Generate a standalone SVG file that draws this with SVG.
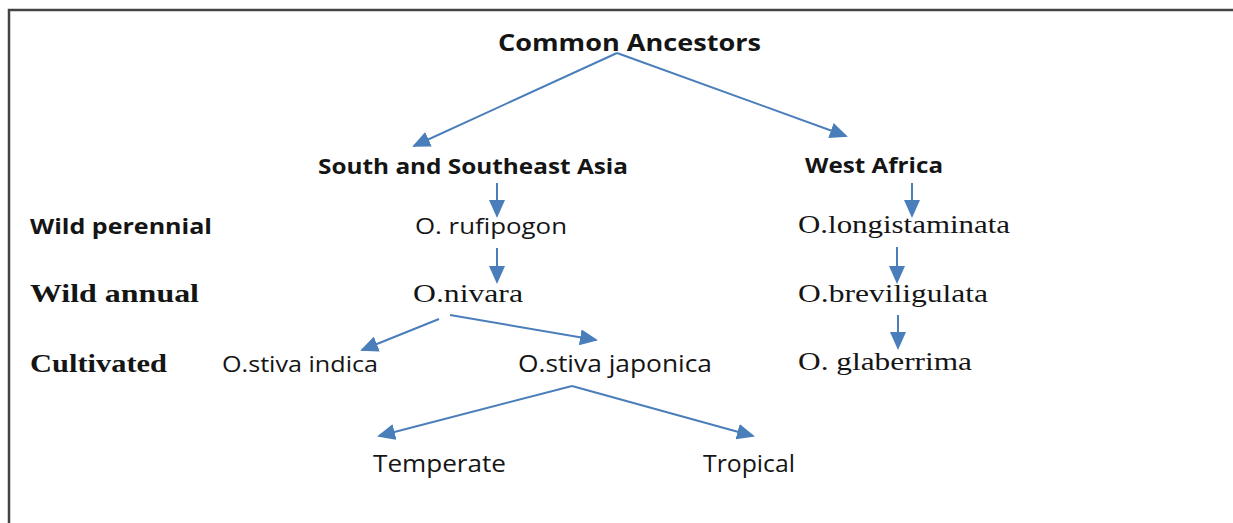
<svg xmlns="http://www.w3.org/2000/svg" width="1233" height="523" viewBox="0 0 1233 523">
<style>
.s{font-family:"Open Sans","Liberation Sans",sans-serif;fill:#151515}
.b{font-weight:bold}
.t{font-family:"Liberation Serif","Times New Roman",serif;fill:#151515}
.c{stroke:#4a7ebb;stroke-width:2;fill:none;marker-end:url(#ah)}
</style>
<defs>
<marker id="ah" markerWidth="9" markerHeight="8" refX="8" refY="4" orient="auto" markerUnits="strokeWidth">
<path d="M0,0 L9,4 L0,8 z" fill="#4a7ebb"/>
</marker>
</defs>
<rect width="1233" height="523" fill="#fff"/>
<g id="frame" stroke="#444" stroke-width="2.5" fill="none">
<path d="M9,523 V10 H1233"/>
</g>
<g id="connectors">
<line class="c" x1="617" y1="53" x2="414" y2="146"/>
<line class="c" x1="617" y1="53" x2="846" y2="136"/>
<line class="c" x1="497" y1="183" x2="497" y2="216"/>
<line class="c" x1="497" y1="248" x2="497" y2="282"/>
<line class="c" x1="439" y1="319" x2="362" y2="350"/>
<line class="c" x1="450" y1="315" x2="596" y2="340"/>
<line class="c" x1="572" y1="386" x2="379" y2="436"/>
<line class="c" x1="572" y1="386" x2="753" y2="436"/>
<line class="c" x1="912" y1="183" x2="912" y2="216"/>
<line class="c" x1="897" y1="247" x2="897" y2="282"/>
<line class="c" x1="898" y1="315" x2="898" y2="348"/>
</g>
<g id="n-common"><text class="s b" x="498" y="51" font-size="23" textLength="263" lengthAdjust="spacingAndGlyphs">Common Ancestors</text></g>
<g id="n-ssa"><text class="s b" x="318" y="174" font-size="22" textLength="310" lengthAdjust="spacingAndGlyphs">South and Southeast Asia</text></g>
<g id="n-wa"><text class="s b" x="805" y="173" font-size="22" textLength="138" lengthAdjust="spacingAndGlyphs">West Africa</text></g>
<g id="n-wildper"><text class="s b" x="30" y="234" font-size="22" textLength="182" lengthAdjust="spacingAndGlyphs">Wild perennial</text></g>
<g id="n-wildann"><text class="t b" x="30" y="302" font-size="26" textLength="169" lengthAdjust="spacingAndGlyphs">Wild  annual</text></g>
<g id="n-cult"><text class="t b" x="30" y="372" font-size="26" textLength="137" lengthAdjust="spacingAndGlyphs">Cultivated</text></g>
<g id="n-rufipogon"><text class="s" x="415" y="234" font-size="22" textLength="152" lengthAdjust="spacingAndGlyphs">O. rufipogon</text></g>
<g id="n-nivara"><text class="t" x="413" y="302" font-size="26" textLength="110" lengthAdjust="spacingAndGlyphs">O.nivara</text></g>
<g id="n-indica"><text class="s" x="222" y="372" font-size="22" textLength="156" lengthAdjust="spacingAndGlyphs">O.stiva indica</text></g>
<g id="n-japonica"><text class="s" x="518" y="372" font-size="24" textLength="194" lengthAdjust="spacingAndGlyphs">O.stiva japonica</text></g>
<g id="n-temperate"><text class="s" x="373" y="472" font-size="24" textLength="133" lengthAdjust="spacingAndGlyphs">Temperate</text></g>
<g id="n-tropical"><text class="s" x="703" y="472" font-size="24" textLength="92" lengthAdjust="spacingAndGlyphs">Tropical</text></g>
<g id="n-longistaminata"><text class="t" x="798" y="233" font-size="25" textLength="212" lengthAdjust="spacingAndGlyphs">O.longistaminata</text></g>
<g id="n-breviligulata"><text class="t" x="798" y="302" font-size="25" textLength="190" lengthAdjust="spacingAndGlyphs">O.breviligulata</text></g>
<g id="n-glaberrima"><text class="t" x="798" y="370" font-size="25" textLength="174" lengthAdjust="spacingAndGlyphs">O. glaberrima</text></g>
</svg>
